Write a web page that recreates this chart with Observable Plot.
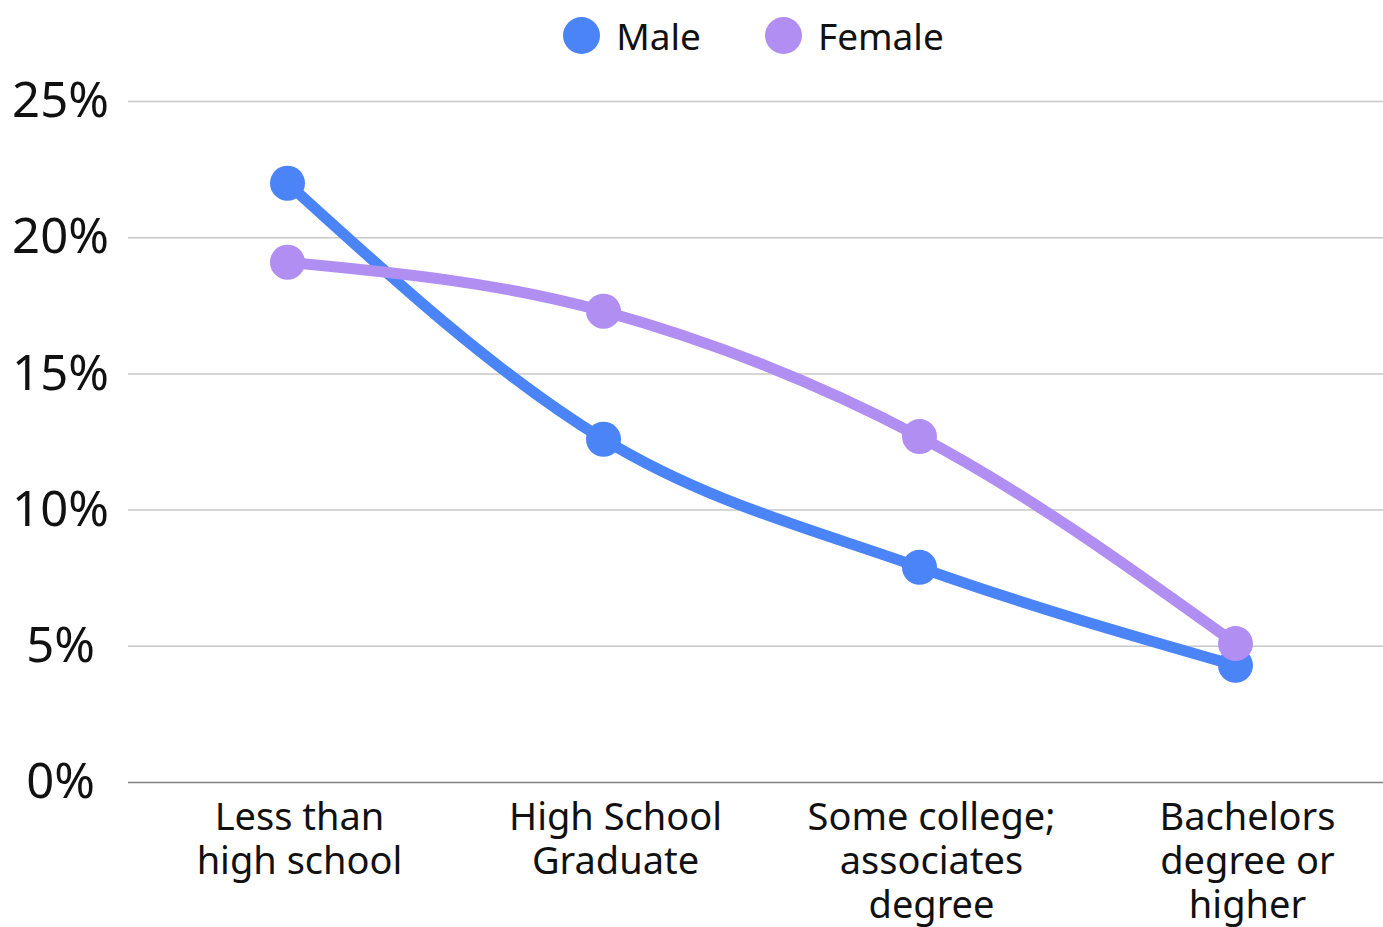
<!DOCTYPE html>
<html>
<head>
<meta charset="utf-8">
<script src="https://cdn.jsdelivr.net/npm/d3@7"></script>
<script src="https://cdn.jsdelivr.net/npm/@observablehq/plot@0.6"></script>
<style>
  html, body { margin: 0; padding: 0; background: #fff; }
  body { width: 1383px; height: 927px; overflow: hidden; font-family: "Noto Sans", sans-serif; }
  #legend { height: 70px; display: flex; align-items: center; justify-content: center; padding-left: 124px; box-sizing: border-box; gap: 64px; }
  .item { display: flex; align-items: center; gap: 16px; font-size: 37px; color: #111; }
  .sw { width: 37px; height: 37px; border-radius: 50%; display: inline-block; }
  #chart svg { display: block; }
</style>
</head>
<body>
<div id="legend"></div>
<div id="chart"></div>
<script>
const categories = ["Less than\nhigh school", "High School\nGraduate", "Some college;\nassociates\ndegree", "Bachelors\ndegree or\nhigher"];
const seriesNames = ["Male", "Female"];
const maleValues = [22.0, 12.6, 7.9, 4.3];
const femaleValues = [19.1, 17.3, 12.7, 5.1];
const colors = ["#4a84f6", "#b08ef2"];
const yTicks = [0, 5, 10, 15, 20, 25];

const rows = [];
categories.forEach((c, i) => {
  rows.push({cat: c, series: "Male", value: maleValues[i]});
  rows.push({cat: c, series: "Female", value: femaleValues[i]});
});

const legend = document.getElementById("legend");
seriesNames.forEach((s, i) => {
  const it = document.createElement("div");
  it.className = "item";
  it.innerHTML = `<span class="sw" style="background:${colors[i]}"></span><span>${s}</span>`;
  legend.appendChild(it);
});

const chart = Plot.plot({
  width: 1383,
  height: 857,
  marginLeft: 128,
  marginRight: 0,
  marginTop: 31,
  marginBottom: 145,
  style: {fontFamily: "Noto Sans, sans-serif", color: "#111", background: "#fff", overflow: "visible"},
  x: {type: "point", domain: categories, range: [286, 1235], padding: 0, label: null},
  y: {domain: [0, 25], label: null},
  color: {domain: seriesNames, range: colors},
  marks: [
    Plot.gridY(yTicks.filter(d => d > 0), {stroke: "#c8c8c8", strokeOpacity: 1, strokeWidth: 1.5}),
    Plot.ruleY([0], {stroke: "#808080", strokeWidth: 1.5}),
    Plot.axisY({ticks: yTicks, tickFormat: d => d + "%", tickSize: 0, tickPadding: 68, textAnchor: "middle", fontSize: 49, label: null}),
    Plot.axisX({tickSize: 0, tickPadding: 16, fontSize: 38, lineHeight: 1.16, dx: 12, label: null}),
    Plot.line(rows, {x: "cat", y: "value", z: "series", stroke: "series", strokeWidth: 11, curve: "monotone-x"}),
    Plot.dot(rows, {x: "cat", y: "value", fill: "series", r: 17.5})
  ]
});
document.getElementById("chart").appendChild(chart);
</script>
</body>
</html>
